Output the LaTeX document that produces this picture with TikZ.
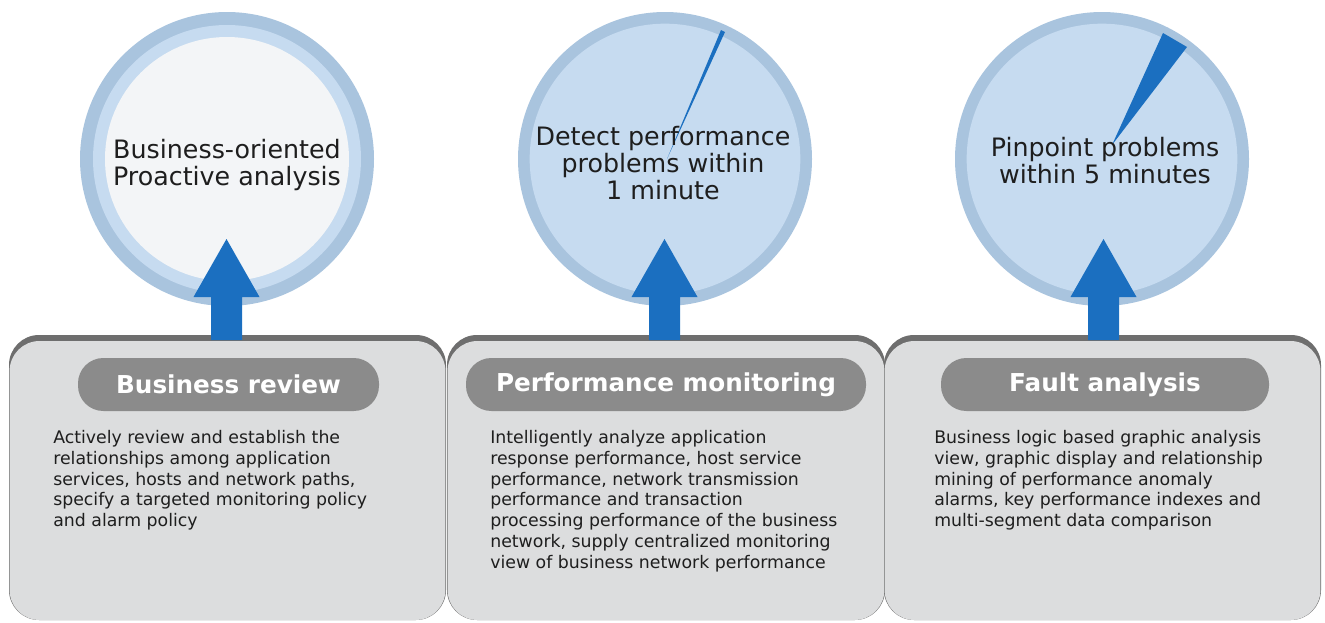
\documentclass[tikz,border=0pt]{standalone}
\usepackage{fontspec}
\setmainfont{DejaVu Sans}
\usetikzlibrary{calc}
\definecolor{panelfill}{HTML}{DCDDDE}
\definecolor{panelband}{HTML}{6E6E6E}
\definecolor{pillgrey}{HTML}{8B8B8B}
\definecolor{ringout}{HTML}{A9C4DE}
\definecolor{ringin}{HTML}{C6DBF0}
\definecolor{paleface}{HTML}{F3F5F7}
\definecolor{arrowblue}{HTML}{1B6FC0}
\definecolor{txt}{HTML}{1E1E1E}
\tikzset{
  pill/.style={rectangle, rounded corners=19pt, fill=pillgrey, text=white,
    minimum width=225.75pt, minimum height=39.75pt, inner sep=0pt,
    font=\fontsize{18.5}{20}\selectfont\bfseries},
  disc/.style={circle, fill=ringout, minimum size=220.5pt, inner sep=0pt},
  circtext/.style={anchor=north, align=center, inner sep=0pt, text=txt,
    font=\fontsize{19}{20.4}\selectfont},
  bodytext/.style={anchor=north west, align=left, inner sep=0pt, text=txt,
    font=\fontsize{13}{15.6}\selectfont},
  upar/.style={fill=arrowblue}
}
\begin{document}
\begin{tikzpicture}[x=0.75pt,y=-0.75pt]
\useasboundingbox (0,0) rectangle (1325,622);
% panels
\foreach \xa/\xb/\nm in {9/446/p1, 447/885/p2, 884/1321/p3}{
  \fill[panelband, rounded corners=22.5pt] (\xa,335) rectangle (\xb,620);
  \fill[panelfill, rounded corners=22.5pt] (\xa+0.6,341) rectangle (\xb-0.6,620);
  \coordinate (\nm) at ({(\xa+\xb)/2},335);
}
% circles
\node[disc] (c1) at (227,159) {};
\fill[ringin] (c1.center) circle (100.5pt);
\fill[paleface] (c1.center) circle (91.5pt);
\node[disc] (c2) at (665,159) {};
\fill[ringin] (c2.center) circle (101.5pt);
\node[disc] (c3) at (1102,159) {};
\fill[ringin] (c3.center) circle (101.5pt);
% needles
\fill[arrowblue] (667,159) -- (721,30) -- (725,32) -- cycle;
\fill[arrowblue] (1112,145) -- (1163,33) -- (1187,47) -- cycle;
% circle texts
\node[circtext] (t1) at (227,139) {Business-oriented\\Proactive analysis};
\node[circtext] (t2) at (663,126) {Detect performance\\problems within\\1 minute};
\node[circtext] (t3) at (1105,137) {Pinpoint problems\\within 5 minutes};
% arrows
\foreach \cx in {226.5, 664.5, 1103.5}{
  \fill[upar] (\cx,239) -- (\cx+33,297) -- (\cx+15.5,297) -- (\cx+15.5,340)
    -- (\cx-15.5,340) -- (\cx-15.5,297) -- (\cx-33,297) -- cycle;
}
% pills
\node[pill] (h1) at (228.5,384.5) {Business review};
\node[pill, minimum width=300pt] (h2) at (666,384.5) {Performance monitoring};
\node[pill, minimum width=246pt] (h3) at (1105,384.5) {Fault analysis};
% body text
\node[bodytext] (b1) at (53,430) {Actively review and establish the\\relationships among application\\services, hosts and network paths,\\specify a targeted monitoring policy\\and alarm policy};
\node[bodytext] (b2) at (490,430) {Intelligently analyze application\\response performance, host service\\performance, network transmission\\performance and transaction\\processing performance of the business\\network, supply centralized monitoring\\view of business network performance};
\node[bodytext] (b3) at (934,430) {Business logic based graphic analysis\\view, graphic display and relationship\\mining of performance anomaly\\alarms, key performance indexes and\\multi-segment data comparison};
\end{tikzpicture}
\end{document}
